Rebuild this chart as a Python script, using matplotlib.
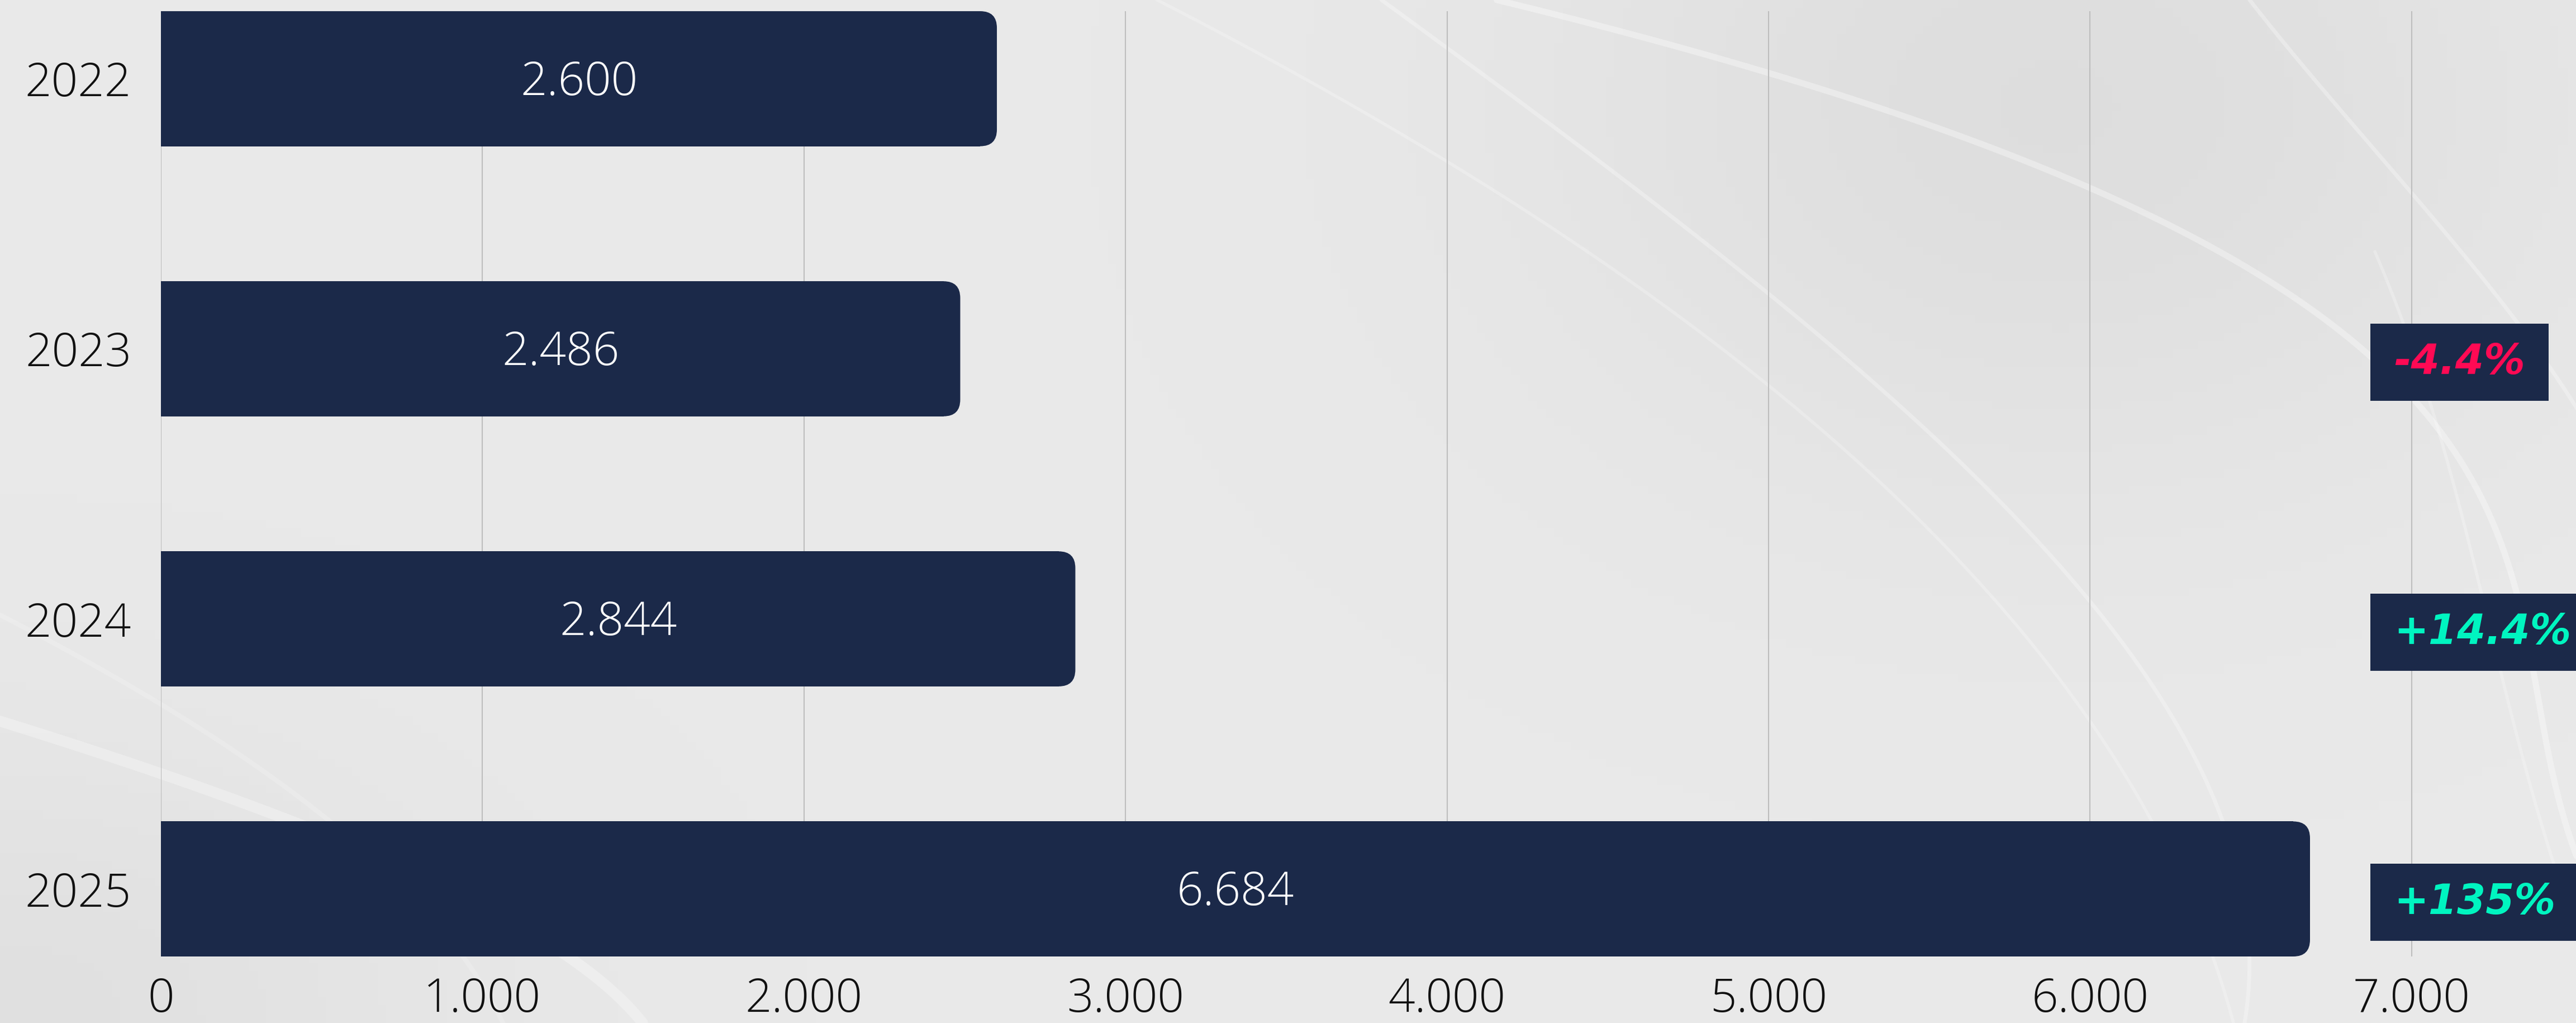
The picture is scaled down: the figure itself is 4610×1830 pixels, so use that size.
import numpy as np
import matplotlib.pyplot as plt
from matplotlib.patches import FancyBboxPatch, Rectangle
from matplotlib.transforms import blended_transform_factory

#%% data
years = ['2022', '2023', '2024', '2025']
values = [2600, 2486, 2844, 6684]
value_labels = ['2.600', '2.486', '2.844', '6.684']
changes = [None, '-4.4%', '+14.4%', '+135%']
change_colors = [None, '#FF0A54', '#00F5C0', '#00F5C0']
xticks = [0, 1000, 2000, 3000, 4000, 5000, 6000, 7000]
xtick_labels = ['0', '1.000', '2.000', '3.000', '4.000', '5.000', '6.000', '7.000']

navy = '#1B2949'
label_font = 'Open Sans'
W, H = 4610, 1830
fig = plt.figure(figsize=(W / 100, H / 100), dpi=100)
fig.patch.set_facecolor('#E9E9E9')

#%% background swooshes (decoration only)
bg = fig.add_axes([0, 0, 1, 1], zorder=-5)
bg.set_xlim(0, W)
bg.set_ylim(H, 0)
bg.axis('off')
gx, gy = np.meshgrid(np.linspace(0, 1, 300), np.linspace(0, 1, 120))
shade = 0.915 - 0.045 * np.exp(-((gx - 0.8) ** 2 / 0.04 + (gy - 0.1) ** 2 / 0.15))
shade -= 0.035 * np.exp(-((gx - 0.0) ** 2 / 0.03 + (gy - 1.0) ** 2 / 0.08))
bg.imshow(np.dstack([shade] * 3), extent=[0, W, H, 0], aspect='auto', zorder=0)

swooshes = [
    ([0, 117, 280, 525, 817, 1225, 1830], [2643, 3110, 3715, 4060, 4320, 4596, 4800], 8, 0.35),
    ([0, 152, 467, 933, 1517, 1830], [2505, 2626, 3110, 3628, 3974, 4026], 5, 0.3),
    ([0, 525, 933, 1400, 1830], [2073, 2937, 3455, 3800, 4000], 4, 0.25),
    ([0, 350, 560, 900], [4026, 4320, 4492, 4700], 5, 0.3),
    ([450, 900, 1300, 1830], [4250, 4400, 4500, 4680], 4, 0.25),
    ([1290, 1500, 1700, 1830], [0, 600, 1000, 1150], 14, 0.3),
    ([1100, 1400, 1650, 1830], [0, 500, 780, 900], 6, 0.2),
]
for ys, xs, lw, a in swooshes:
    c = np.polyfit(ys, xs, min(3, len(ys) - 1))
    yy = np.linspace(ys[0], ys[-1], 200)
    bg.plot(np.polyval(c, yy), yy, color='white', lw=lw, alpha=a, zorder=1,
            solid_capstyle='round')

#%% main axes
left = 288 / W
ax = fig.add_axes([left, (H - 1711) / H, 1 - left, (1711 - 20) / H])
ax.patch.set_alpha(0)
pos = np.arange(len(years))
xmax = (W - 288) / 575.4 * 1000
ax.set_xlim(0, xmax)
ax.set_ylim(3.25, -0.25)

bars = ax.barh(pos, values, height=0.5, color=navy, zorder=2)
# rounded right-hand corners
r = 52
aspect = 0.5754 / 483
for b in bars:
    b.set_visible(False)
    x0, y0, w, h = b.get_x(), b.get_y(), b.get_width(), b.get_height()
    ax.add_patch(FancyBboxPatch((x0, y0), w, h,
                                boxstyle=f'round,pad=0,rounding_size={r}',
                                mutation_aspect=aspect, fc=navy, ec='none', zorder=2))
    ax.add_patch(Rectangle((x0, y0), w - r, h, fc=navy, ec='none', zorder=2))

for p, v, lab in zip(pos, values, value_labels):
    ax.text(v / 2, p + 0.015, lab, ha='center', va='center', color='white',
            fontsize=60, family=label_font, weight='light', zorder=3)

ax.set_xticks(xticks)
ax.set_xticklabels(xtick_labels)
ax.set_yticks(pos)
ax.set_yticklabels(years)
ax.tick_params(axis='both', length=0, labelsize=60, colors='#111111')
ax.tick_params(axis='x', pad=26)
ax.tick_params(axis='y', pad=38)
for t in ax.get_xticklabels() + ax.get_yticklabels():
    t.set_family(label_font)
    t.set_weight('light')
for s in ax.spines.values():
    s.set_visible(False)
ax.set_axisbelow(True)
ax.xaxis.grid(True, color='#BDBDBD', lw=1.5, zorder=0)

#%% change badges
trans = blended_transform_factory(fig.transFigure, ax.transData)
badges = []
for p, txt, col in zip(pos, changes, change_colors):
    if txt is None:
        continue
    t = ax.text(4284 / W, p + 0.05, txt, transform=trans, ha='left', va='center',
                color=col, fontsize=53, family='DejaVu Sans', weight='bold',
                style='italic', zorder=6, clip_on=False)
    badges.append(t)

fig.canvas.draw()
renderer = fig.canvas.get_renderer()
for t in badges:
    bb = t.get_window_extent(renderer)
    yc = (bb.y0 + bb.y1) / 2
    x0 = 4242
    x1 = bb.x1 + 42
    ax.add_patch(Rectangle((x0 / W, (yc - 69) / H), (x1 - x0) / W, 138 / H,
                           transform=fig.transFigure, fc=navy, ec='none',
                           zorder=5, clip_on=False))

fig.savefig('out.png', dpi=100, facecolor=fig.get_facecolor())
